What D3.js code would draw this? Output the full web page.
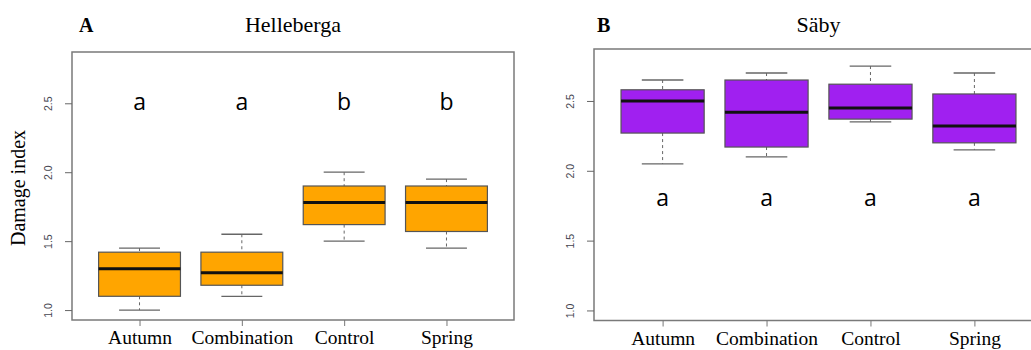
<!DOCTYPE html>
<html>
<head>
<meta charset="utf-8">
<script src="https://cdn.jsdelivr.net/npm/d3@7"></script>
<style>
  body { margin: 0; background: #fff; }
  svg { display: block; }
</style>
</head>
<body>
<div id="chart"></div>
<script>
// data
const treatments = ["Autumn", "Combination", "Control", "Spring"];
const yTicks = [1.0, 1.5, 2.0, 2.5];

// five-number summaries: [lower whisker, Q1, median, Q3, upper whisker]
const hellebergaStats = [
  [1.00, 1.10, 1.30, 1.42, 1.45],
  [1.10, 1.18, 1.27, 1.42, 1.55],
  [1.50, 1.62, 1.78, 1.90, 2.00],
  [1.45, 1.57, 1.78, 1.90, 1.95]
];
const sabyStats = [
  [2.05, 2.27, 2.50, 2.58, 2.65],
  [2.10, 2.17, 2.42, 2.65, 2.70],
  [2.35, 2.37, 2.45, 2.62, 2.75],
  [2.15, 2.20, 2.32, 2.55, 2.70]
];
const hellebergaLetters = ["a", "a", "b", "b"];
const sabyLetters = ["a", "a", "a", "a"];
const hellebergaLetterY = 2.5;
const sabyLetterY = 1.8;

const ylim = [1.0, 2.8];

const svg = d3.select("#chart")
  .append("svg")
  .attr("width", 1031)
  .attr("height", 350);

const serif = "'Liberation Serif', 'Times New Roman', serif";

function drawPanel(p) {
  // R style: axis extended 4% beyond limits
  const yPad = (ylim[1] - ylim[0]) * 0.04;
  const xScale = d3.scaleLinear()
    .domain([0.5 - 0.16, treatments.length + 0.5 + 0.16])
    .range([p.left, p.right]);
  const yScale = d3.scaleLinear()
    .domain([ylim[0] - yPad, ylim[1] + yPad])
    .range([p.bottom, p.top]);

  const g = svg.append("g");

  // frame
  g.append("rect")
    .attr("x", p.left)
    .attr("y", p.top)
    .attr("width", p.right - p.left)
    .attr("height", p.bottom - p.top)
    .style("fill", "none")
    .style("stroke", "#7a7a7a")
    .style("stroke-width", 1.5);

  // y axis
  const yAxis = g.append("g")
    .attr("transform", `translate(${p.left},0)`)
    .call(d3.axisLeft(yScale)
      .tickValues(yTicks)
      .tickFormat(d3.format(".1f"))
      .tickSize(7));
  yAxis.select(".domain").remove();
  yAxis.selectAll(".tick line").style("stroke", "#666");
  yAxis.selectAll(".tick text")
    .attr("x", 0)
    .attr("dy", null)
    .attr("transform", "translate(-20,0) rotate(-90)")
    .attr("text-anchor", "middle")
    .style("font-family", "'Liberation Sans', Arial, sans-serif")
    .style("font-size", "10.5px")
    .style("fill", "#454550");

  // x axis
  const xAxis = g.append("g")
    .attr("transform", `translate(0,${p.bottom})`)
    .call(d3.axisBottom(xScale)
      .tickValues(treatments.map((d, i) => i + 1))
      .tickFormat((d, i) => treatments[i])
      .tickSize(6));
  xAxis.select(".domain").remove();
  xAxis.selectAll(".tick line").style("stroke", "#777");
  xAxis.selectAll(".tick text")
    .attr("y", 24)
    .attr("dy", null)
    .style("font-family", serif)
    .style("font-size", "19.5px")
    .style("fill", "#000");

  const boxW = xScale(1.4) - xScale(0.6);
  const capW = boxW / 2;

  const boxes = g.selectAll(".box")
    .data(p.stats)
    .enter()
    .append("g")
    .attr("class", "box")
    .attr("transform", (d, i) => `translate(${xScale(i + 1)},0)`);

  // dashed whiskers
  boxes.append("line")
    .attr("y1", d => yScale(d[4]))
    .attr("y2", d => yScale(d[3]))
    .style("stroke", "#666")
    .style("stroke-dasharray", "3,3");
  boxes.append("line")
    .attr("y1", d => yScale(d[1]))
    .attr("y2", d => yScale(d[0]))
    .style("stroke", "#666")
    .style("stroke-dasharray", "3,3");

  // caps
  boxes.selectAll(".cap")
    .data(d => [d[0], d[4]])
    .enter()
    .append("line")
    .attr("class", "cap")
    .attr("x1", -capW / 2)
    .attr("x2", capW / 2)
    .attr("y1", v => yScale(v))
    .attr("y2", v => yScale(v))
    .style("stroke", "#666")
    .style("stroke-width", 1.3);

  // box
  boxes.append("rect")
    .attr("x", -boxW / 2)
    .attr("width", boxW)
    .attr("y", d => yScale(d[3]))
    .attr("height", d => yScale(d[1]) - yScale(d[3]))
    .style("fill", p.fill)
    .style("stroke", "#555")
    .style("stroke-width", 1.2);

  // median
  boxes.append("line")
    .attr("x1", -boxW / 2)
    .attr("x2", boxW / 2)
    .attr("y1", d => yScale(d[2]))
    .attr("y2", d => yScale(d[2]))
    .style("stroke", "#111")
    .style("stroke-width", 3);

  // significance letters
  g.selectAll(".letter")
    .data(p.letters)
    .enter()
    .append("text")
    .attr("class", "letter")
    .attr("x", (d, i) => xScale(i + 1))
    .attr("y", yScale(p.letterY) + 7)
    .attr("text-anchor", "middle")
    .style("font-family", "'Open Sans', sans-serif")
    .style("font-size", "23px")
    .text(d => d);

  // title and panel tag
  g.append("text")
    .attr("x", (p.left + p.right) / 2)
    .attr("y", 32)
    .attr("text-anchor", "middle")
    .style("font-family", serif)
    .style("font-size", "22px")
    .text(p.title);

  g.append("text")
    .attr("x", p.tagX)
    .attr("y", 32)
    .style("font-family", serif)
    .style("font-weight", "bold")
    .style("font-size", "20px")
    .text(p.tag);

  return g;
}

drawPanel({
  left: 72, right: 514, top: 52, bottom: 320,
  stats: hellebergaStats, letters: hellebergaLetters, letterY: hellebergaLetterY,
  fill: "#FFA500", title: "Helleberga", tag: "A", tagX: 79
});

drawPanel({
  left: 594, right: 1043, top: 49, bottom: 320.5,
  stats: sabyStats, letters: sabyLetters, letterY: sabyLetterY,
  fill: "#A020F0", title: "Säby", tag: "B", tagX: 597
});

// y axis label, left panel only
svg.append("text")
  .attr("transform", "translate(25,188) rotate(-90)")
  .attr("text-anchor", "middle")
  .style("font-family", serif)
  .style("font-size", "20px")
  .text("Damage index");
</script>
</body>
</html>
